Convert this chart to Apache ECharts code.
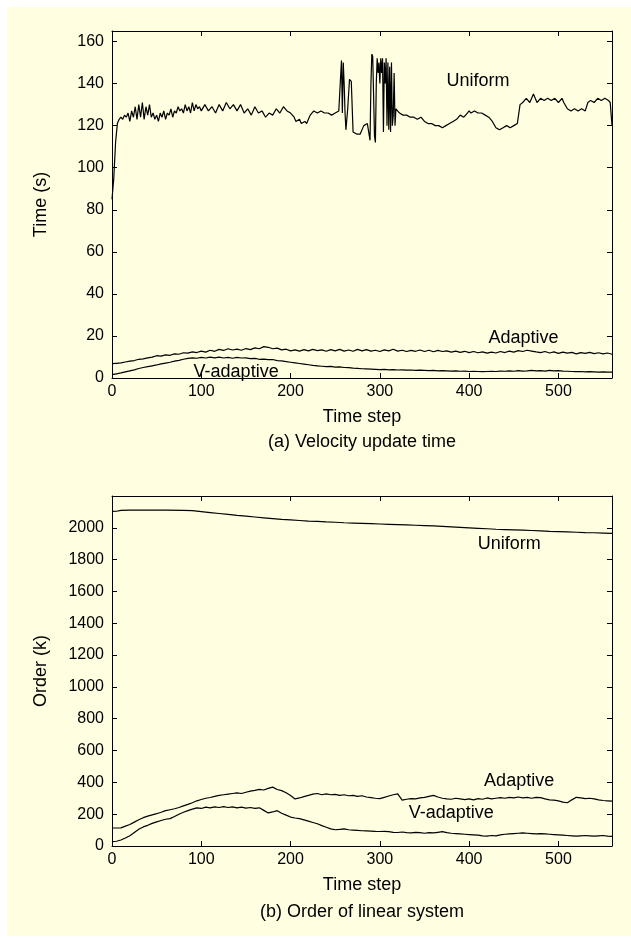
<!DOCTYPE html>
<html><head><meta charset="utf-8">
<script src="https://cdn.jsdelivr.net/npm/echarts@6/dist/echarts.min.js"></script>
<style>
html,body{margin:0;padding:0;background:#fff;}
#bg{position:absolute;left:7px;top:7px;width:624px;height:929px;background:#FFFEE0;}
#chart{position:absolute;left:0;top:0;width:631px;height:938px;}
</style></head><body><div id="bg"></div><div id="chart"></div>
<script>
// ---------- data ----------
const xTicks = [0, 100, 200, 300, 400, 500];
const timeTicks = [0, 20, 40, 60, 80, 100, 120, 140, 160];
const orderTicks = [0, 200, 400, 600, 800, 1000, 1200, 1400, 1600, 1800, 2000];

const steps = [0,5,10,15,20,25,30,35,40,45,50,55,60,65,70,75,80,85,90,95,
100,105,110,115,120,125,130,135,140,145,150,155,160,165,170,175,180,185,190,195,
200,205,210,215,220,225,230,235,240,245,250,255,260,265,270,275,280,285,290,295,
300,305,310,315,320,325,330,335,340,345,350,355,360,365,370,375,380,385,390,395,
400,405,410,415,420,425,430,435,440,445,450,455,460,465,470,475,480,485,490,495,
500,505,510,515,520,525,530,535,540,545,550,555,560];

// (a) velocity update time, Uniform: [time step, seconds]
const uniformTime = [[0,85],[2,95],[4,112],[6,121],[8,123],[10,124],[12,123],[14,125],[16,124],[18,126],[20,122],[22,127],[24,124],[26,129],[28,123],[30,130],[32,124],[34,131],[36,123],[38,129],[40,125],[42,130],[44,124],[46,126],[48,123],[50,125],[52,122],[54,126],[56,124],[58,127],[60,123],[62,126],[64,125],[66,128],[68,124],[70,127],[72,126],[74,129],[76,127],[78,128],[80,126],[82,130],[84,127],[86,129],[88,126],[90,131],[92,127],[94,130],[96,128],[98,129],[100,127],[104,130],[108,127],[112,129],[116,126],[120,130],[124,127],[128,131],[132,128],[136,130],[140,127],[144,130],[148,126],[152,128],[156,125],[160,129],[164,126],[168,127],[172,124],[176,126],[180,125],[184,128],[188,126],[192,129],[196,127],[200,126],[204,124],[206,122],[210,123],[212,121],[216,122],[218,121],[220,123],[222,125],[226,127],[230,126],[234,127],[238,126],[242,126],[246,125],[250,126],[254,127],[256,127],[257,151],[258,126],[259,150],[260,140],[261,126],[262,118],[264,128],[266,142],[268,141],[270,117],[274,116],[278,116],[282,120],[286,121],[288,121],[289,113],[290,140],[291,154],[292,153],[294,115],[295,112],[296,140],[297,152],[298,145],[299,150],[300,140],[301,152],[302,145],[303,152],[304,117],[305,150],[306,140],[307,152],[308,120],[309,150],[310,118],[311,148],[312,117],[313,150],[314,120],[315,125],[316,145],[317,120],[318,128],[322,126],[326,125],[330,125],[334,124],[338,124],[342,123],[346,124],[350,122],[354,121],[358,121],[362,120],[366,120],[370,119],[374,120],[378,121],[382,122],[386,123],[390,125],[394,124],[398,126],[400,127],[402,126],[406,127],[410,126],[414,126],[418,125],[422,124],[426,122],[430,119],[434,118],[438,119],[442,120],[446,119],[450,120],[454,121],[456,121],[457,130],[460,131],[464,133],[468,131],[472,135],[474,135],[476,131],[480,133],[484,132],[488,133],[492,132],[496,133],[500,131],[504,133],[506,131],[510,128],[514,127],[518,128],[522,127],[526,128],[530,127],[533,131],[536,132],[540,131],[544,133],[548,132],[552,133],[556,132],[558,131],[560,120]];

const adaptiveTime = [6.8,7.0,7.2,7.6,8.0,8.3,8.9,9.1,9.6,9.9,
10.6,10.4,11.0,10.8,11.5,11.3,12.0,11.8,12.4,12.1,
12.8,12.3,13.2,12.7,13.6,13.1,13.9,13.3,13.7,13.2,
14.0,13.5,14.3,13.9,14.9,14.6,13.9,14.2,13.4,13.7,
12.9,13.4,12.8,13.5,12.9,13.6,13.0,13.4,12.7,13.5,
12.9,13.6,12.8,13.3,12.7,13.6,12.9,13.5,12.8,13.2,
12.6,13.4,12.9,13.7,12.8,13.2,12.6,13.1,12.7,13.3,
12.6,13.2,12.5,13.1,12.6,12.9,12.3,12.8,12.2,12.7,
12.1,12.6,12.0,12.4,11.8,12.3,11.9,12.6,12.1,12.8,
12.3,13.0,12.6,13.2,12.8,12.4,12.1,12.6,11.9,12.4,
11.7,12.3,11.8,12.2,11.5,12.1,11.7,12.2,11.6,12.0,
11.5,11.9,11.3];

const vAdaptiveTime = [1.6,2.0,2.4,2.9,3.4,3.9,4.5,5.0,5.4,5.8,
6.2,6.7,7.1,7.5,8.0,8.4,8.9,9.3,9.6,9.4,
9.8,9.5,9.9,9.6,9.9,9.5,9.8,9.4,9.8,9.5,
9.6,9.2,9.3,8.9,9.0,8.7,8.8,8.3,8.1,7.8,
7.5,7.2,6.9,6.6,6.3,6.0,5.8,5.6,5.4,5.5,
5.2,5.3,5.0,4.9,4.7,4.6,4.4,4.3,4.2,4.1,
4.0,4.1,3.9,4.0,3.8,3.9,3.7,3.8,3.6,3.7,
3.6,3.5,3.6,3.4,3.5,3.4,3.3,3.4,3.2,3.3,
3.1,3.2,3.1,3.0,3.1,3.2,3.1,3.3,3.2,3.4,
3.2,3.5,3.3,3.4,3.6,3.4,3.5,3.3,3.6,3.4,
3.5,3.3,3.2,3.1,3.0,3.1,2.9,3.0,2.9,2.8,
2.9,2.8,2.8];

// (b) order of linear system (k)
const uniformOrder = [[0,2103],[5,2104],[10,2110],[20,2111],[40,2111],[60,2111],[80,2110],[90,2108],[100,2102],[110,2096],[120,2090],[130,2084],[140,2078],[150,2073],[160,2068],[170,2063],[180,2058],[190,2053],[200,2050],[210,2046],[220,2042],[230,2040],[240,2037],[250,2035],[260,2032],[270,2030],[280,2028],[290,2026],[300,2024],[310,2022],[320,2020],[330,2018],[340,2016],[350,2014],[360,2012],[370,2009],[380,2006],[390,2003],[400,2000],[410,1997],[420,1994],[430,1991],[440,1989],[450,1987],[460,1985],[470,1983],[480,1981],[490,1978],[500,1976],[510,1974],[520,1972],[530,1970],[540,1969],[550,1967],[560,1965]];

const adaptiveOrder = [113,113,114,125,135,150,165,178,188,196,
203,212,222,228,234,242,252,262,272,284,
292,300,305,312,318,322,326,330,334,330,
338,345,350,356,352,362,370,355,348,335,
318,296,302,310,318,326,330,322,328,322,
325,318,322,316,318,312,316,308,304,300,
298,306,314,322,328,288,294,298,296,302,
306,312,318,308,300,296,294,300,296,292,
296,290,298,294,302,296,300,304,300,306,
302,308,302,306,300,306,304,296,290,288,
284,276,272,290,306,302,298,300,296,290,
286,284,282];

const vAdaptiveOrder = [27,30,38,50,65,85,105,120,130,142,
152,160,168,172,185,200,212,222,232,240,
236,244,240,246,242,248,242,246,240,244,
238,242,236,240,224,208,214,222,206,194,
182,176,172,164,156,148,140,128,118,108,
102,104,108,102,100,98,96,95,94,92,
91,92,90,86,85,88,84,82,86,84,
80,84,82,86,90,84,80,78,76,74,
72,70,68,64,62,66,64,70,74,76,
78,80,82,80,78,76,78,76,74,72,
70,68,66,64,62,64,66,64,62,64,
66,62,60];

// ---------- chart ----------
const FONT = "'Liberation Sans', Arial, Helvetica, sans-serif";
const pair = (xs, ys) => xs.map((x, i) => [x, ys[i]]);
const shown = ticks => v => (ticks.indexOf(v) >= 0 ? String(v) : '');

function xAx(grid, pos) {
  return {
    type: 'value', gridIndex: grid, position: pos, min: 0, max: 560, interval: 100,
    name: pos === 'bottom' ? 'Time step' : '', nameLocation: 'middle', nameGap: 30,
    nameTextStyle: { color: '#000', fontSize: 18, fontFamily: FONT },
    axisLine: { show: true, onZero: false, lineStyle: { color: '#000', width: 1 } },
    axisTick: { show: true, inside: true, length: 5, lineStyle: { color: '#000' } },
    axisLabel: { show: pos === 'bottom', color: '#000', fontSize: 16, margin: 6, fontFamily: FONT, formatter: shown(xTicks) },
    splitLine: { show: false }
  };
}
function yAx(grid, pos, max, interval, ticks, name) {
  return {
    type: 'value', gridIndex: grid, position: pos, min: 0, max: max, interval: interval,
    name: pos === 'left' ? name : '', nameLocation: 'middle', nameGap: 62,
    nameTextStyle: { color: '#000', fontSize: 18, fontFamily: FONT },
    axisLine: { show: true, onZero: false, lineStyle: { color: '#000', width: 1 } },
    axisTick: { show: true, inside: true, length: 5, lineStyle: { color: '#000' } },
    axisLabel: { show: pos === 'left', color: '#000', fontSize: 16, margin: 8, fontFamily: FONT, formatter: shown(ticks) },
    splitLine: { show: false }
  };
}
function line(name, data, xi, yi, label, coord) {
  return {
    type: 'line', name: name, data: data, xAxisIndex: xi, yAxisIndex: yi,
    showSymbol: false, symbol: 'none', silent: true,
    lineStyle: { color: '#000', width: 1.2 },
    markPoint: {
      symbol: 'circle', symbolSize: 0, silent: true,
      label: { show: true, position: 'inside', formatter: label, color: '#000', fontSize: 18, fontFamily: FONT },
      data: [{ coord: coord }]
    }
  };
}

const chart = echarts.init(document.getElementById('chart'), null, { renderer: 'canvas' });
chart.setOption({
  animation: false,
  backgroundColor: 'transparent',
  textStyle: { fontFamily: FONT },
  grid: [
    { left: 112, top: 31, width: 500, height: 347 },
    { left: 112, top: 496, width: 500, height: 350 }
  ],
  xAxis: [xAx(0, 'bottom'), xAx(0, 'top'), xAx(1, 'bottom'), xAx(1, 'top')],
  yAxis: [
    yAx(0, 'left', 165, 20, timeTicks, 'Time (s)'), yAx(0, 'right', 165, 20, timeTicks, ''),
    yAx(1, 'left', 2200, 200, orderTicks, 'Order (k)'), yAx(1, 'right', 2200, 200, orderTicks, '')
  ],
  series: [
    line('Uniform', uniformTime, 0, 0, 'Uniform', [410, 141]),
    line('Adaptive', pair(steps, adaptiveTime), 0, 0, 'Adaptive', [461, 19]),
    line('V-adaptive', pair(steps, vAdaptiveTime), 0, 0, 'V-adaptive', [139, 3]),
    line('Uniform', uniformOrder, 2, 2, 'Uniform', [445, 1896]),
    line('Adaptive', pair(steps, adaptiveOrder), 2, 2, 'Adaptive', [456, 411]),
    line('V-adaptive', pair(steps, vAdaptiveOrder), 2, 2, 'V-adaptive', [380, 209])
  ],
  graphic: [
    { type: 'text', x: 362, y: 442, style: { text: '(a) Velocity update time', fill: '#000', font: '18px ' + FONT, textAlign: 'center', textVerticalAlign: 'middle' } },
    { type: 'text', x: 362, y: 912, style: { text: '(b) Order of linear system', fill: '#000', font: '18px ' + FONT, textAlign: 'center', textVerticalAlign: 'middle' } }
  ]
});
</script></body></html>
